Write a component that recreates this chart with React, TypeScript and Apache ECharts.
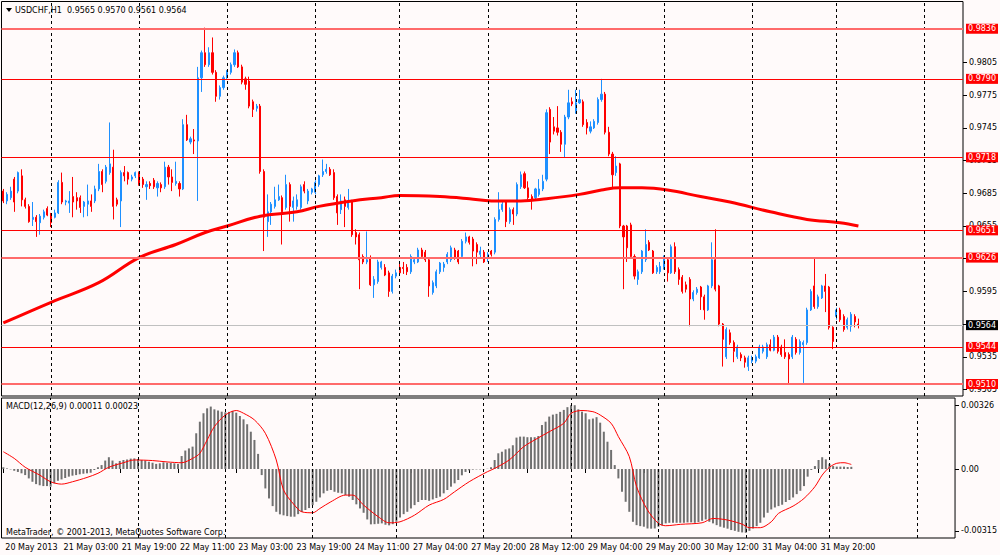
import React, { useEffect, useRef } from "react";
import * as echarts from "echarts";

const symbolName = "USDCHF,H1";
const copyright = "MetaTrader, © 2001-2013, MetaQuotes Software Corp.";

const open = [
  0.9687,0.9678,0.9681,0.9698,0.9687,0.9701,0.9679,0.9673,0.9661,0.9663,
  0.9658,0.9663,0.9671,0.9666,0.9663,0.9667,0.9695,0.9677,0.9676,0.9682,
  0.9681,0.9681,0.9673,0.9675,0.9678,0.9678,0.9689,0.9705,0.9696,0.9704,
  0.9709,0.9679,0.9678,0.9704,0.9704,0.9698,0.9701,0.9704,0.9698,0.9691,
  0.9694,0.9697,0.9690,0.9693,0.9691,0.9709,0.9700,0.9694,0.9694,0.9689,
  0.9748,0.9732,0.9734,0.9733,0.9791,0.9814,0.9803,0.9814,0.9796,0.9774,
  0.9782,0.9791,0.9796,0.9803,0.9814,0.9801,0.9790,0.9788,0.9769,0.9763,
  0.9765,0.9705,0.9659,0.9668,0.9673,0.9679,0.9681,0.9672,0.9693,0.9672,
  0.9673,0.9672,0.9693,0.9678,0.9686,0.9686,0.9693,0.9702,0.9705,0.9707,
  0.9704,0.9682,0.9670,0.9679,0.9672,0.9678,0.9649,0.9647,0.9627,0.9622,
  0.9626,0.9601,0.9604,0.9617,0.9617,0.9612,0.9595,0.9609,0.9617,0.9617,
  0.9617,0.9613,0.9622,0.9622,0.9633,0.9631,0.9624,0.9594,0.9600,0.9613,
  0.9617,0.9622,0.9624,0.9633,0.9632,0.9627,0.9641,0.9645,0.9643,0.9638,
  0.9629,0.9631,0.9626,0.9632,0.9631,0.9661,0.9670,0.9677,0.9659,0.9670,
  0.9666,0.9691,0.9703,0.9690,0.9682,0.9681,0.9684,0.9689,0.9698,0.9762,
  0.9746,0.9745,0.9741,0.9730,0.9755,0.9769,0.9760,0.9768,0.9769,0.9750,
  0.9742,0.9745,0.9750,0.9771,0.9776,0.9741,0.9721,0.9704,0.9712,0.9655,
  0.9655,0.9656,0.9627,0.9606,0.9613,0.9624,0.9640,0.9632,0.9613,0.9613,
  0.9617,0.9624,0.9612,0.9636,0.9615,0.9608,0.9601,0.9606,0.9588,0.9594,
  0.9599,0.9590,0.9578,0.9600,0.9624,0.9600,0.9565,0.9535,0.9557,0.9548,
  0.9535,0.9537,0.9534,0.9526,0.9531,0.9531,0.9534,0.9540,0.9535,0.9546,
  0.9541,0.9553,0.9544,0.9539,0.9537,0.9535,0.9551,0.9539,0.9546,0.9548,
  0.9578,0.9600,0.9581,0.9589,0.9600,0.9599,0.9562,0.9572,0.9578,0.9572,
  0.9562,0.9563,0.9572,0.9565,
];

const close = [
  0.9678,0.9684,0.9687,0.9677,0.9704,0.9679,0.9673,0.9659,0.9663,0.9659,
  0.9664,0.9668,0.9665,0.9658,0.9667,0.9695,0.9677,0.9678,0.9678,0.9677,
  0.9678,0.9672,0.9677,0.9678,0.9673,0.9689,0.9705,0.9693,0.9709,0.9712,
  0.9673,0.9675,0.9704,0.9701,0.9698,0.9700,0.9704,0.9693,0.9693,0.9693,
  0.9692,0.9691,0.9694,0.9690,0.9709,0.9700,0.9695,0.9696,0.9689,0.9748,
  0.9734,0.9735,0.9733,0.9791,0.9814,0.9803,0.9814,0.9796,0.9774,0.9782,
  0.9791,0.9796,0.9803,0.9814,0.9801,0.9787,0.9785,0.9765,0.9762,0.9765,
  0.9705,0.9663,0.9668,0.9675,0.9679,0.9682,0.9668,0.9693,0.9673,0.9678,
  0.9679,0.9691,0.9687,0.9687,0.9689,0.9695,0.9701,0.9705,0.9707,0.9702,
  0.9681,0.9667,0.9678,0.9673,0.9678,0.9647,0.9645,0.9624,0.9622,0.9624,
  0.9601,0.9606,0.9622,0.9622,0.9610,0.9595,0.9609,0.9612,0.9612,0.9616,
  0.9613,0.9627,0.9624,0.9633,0.9627,0.9624,0.9600,0.9603,0.9613,0.9621,
  0.9620,0.9629,0.9635,0.9626,0.9622,0.9641,0.9645,0.9640,0.9632,0.9631,
  0.9632,0.9622,0.9629,0.9629,0.9661,0.9670,0.9675,0.9659,0.9670,0.9666,
  0.9693,0.9702,0.9690,0.9681,0.9679,0.9689,0.9689,0.9696,0.9759,0.9732,
  0.9742,0.9741,0.9730,0.9755,0.9768,0.9767,0.9768,0.9771,0.9748,0.9745,
  0.9746,0.9751,0.9771,0.9776,0.9741,0.9721,0.9702,0.9710,0.9655,0.9645,
  0.9635,0.9627,0.9609,0.9613,0.9632,0.9638,0.9633,0.9612,0.9617,0.9618,
  0.9626,0.9612,0.9636,0.9613,0.9606,0.9595,0.9597,0.9588,0.9594,0.9597,
  0.9590,0.9578,0.9600,0.9624,0.9597,0.9565,0.9551,0.9560,0.9548,0.9540,
  0.9544,0.9534,0.9530,0.9534,0.9534,0.9535,0.9544,0.9544,0.9546,0.9541,
  0.9553,0.9540,0.9537,0.9535,0.9533,0.9553,0.9539,0.9549,0.9548,0.9578,
  0.9595,0.9581,0.9590,0.9600,0.9595,0.9562,0.9549,0.9578,0.9569,0.9560,
  0.9569,0.9574,0.9567,0.9564,
];

const high = [
  0.9689,0.9686,0.9691,0.9700,0.9705,0.9707,0.9681,0.9675,0.9677,0.9665,
  0.9666,0.9670,0.9673,0.9667,0.9670,0.9697,0.9704,0.9679,0.9687,0.9700,
  0.9686,0.9683,0.9678,0.9693,0.9684,0.9692,0.9712,0.9707,0.9711,0.9750,
  0.9725,0.9681,0.9706,0.9710,0.9705,0.9702,0.9705,0.9705,0.9700,0.9696,
  0.9696,0.9699,0.9696,0.9695,0.9714,0.9711,0.9707,0.9714,0.9696,0.9753,
  0.9757,0.9737,0.9744,0.9801,0.9816,0.9837,0.9819,0.9828,0.9798,0.9784,
  0.9793,0.9798,0.9805,0.9817,0.9816,0.9803,0.9792,0.9792,0.9771,0.9767,
  0.9767,0.9707,0.9684,0.9677,0.9691,0.9693,0.9683,0.9702,0.9695,0.9682,
  0.9684,0.9693,0.9696,0.9689,0.9690,0.9697,0.9702,0.9716,0.9712,0.9709,
  0.9707,0.9684,0.9684,0.9682,0.9689,0.9679,0.9652,0.9649,0.9629,0.9650,
  0.9628,0.9609,0.9624,0.9623,0.9620,0.9614,0.9611,0.9615,0.9622,0.9622,
  0.9620,0.9629,0.9626,0.9635,0.9635,0.9633,0.9626,0.9605,0.9615,0.9622,
  0.9622,0.9631,0.9637,0.9635,0.9633,0.9643,0.9649,0.9646,0.9645,0.9640,
  0.9636,0.9633,0.9631,0.9633,0.9663,0.9686,0.9677,0.9678,0.9672,0.9672,
  0.9695,0.9705,0.9705,0.9696,0.9684,0.9690,0.9698,0.9702,0.9762,0.9764,
  0.9755,0.9765,0.9743,0.9757,0.9780,0.9773,0.9780,0.9780,0.9771,0.9753,
  0.9751,0.9753,0.9773,0.9790,0.9778,0.9746,0.9723,0.9719,0.9713,0.9656,
  0.9656,0.9658,0.9629,0.9615,0.9633,0.9652,0.9642,0.9633,0.9619,0.9622,
  0.9628,0.9626,0.9638,0.9640,0.9617,0.9610,0.9604,0.9608,0.9596,0.9599,
  0.9600,0.9592,0.9601,0.9640,0.9652,0.9601,0.9566,0.9562,0.9560,0.9550,
  0.9546,0.9539,0.9536,0.9536,0.9536,0.9537,0.9546,0.9546,0.9548,0.9551,
  0.9555,0.9555,0.9546,0.9551,0.9539,0.9555,0.9553,0.9551,0.9550,0.9580,
  0.9597,0.9626,0.9592,0.9601,0.9611,0.9600,0.9563,0.9580,0.9580,0.9574,
  0.9571,0.9576,0.9574,0.9570,
];

const low = [
  0.9676,0.9675,0.9679,0.9668,0.9685,0.9673,0.9671,0.9658,0.9655,0.9645,
  0.9647,0.9661,0.9664,0.9654,0.9662,0.9666,0.9675,0.9674,0.9667,0.9663,
  0.9670,0.9667,0.9663,0.9664,0.9668,0.9676,0.9687,0.9686,0.9694,0.9702,
  0.9661,0.9673,0.9654,0.9696,0.9693,0.9696,0.9699,0.9692,0.9690,0.9679,
  0.9689,0.9689,0.9682,0.9686,0.9689,0.9693,0.9687,0.9692,0.9682,0.9688,
  0.9733,0.9730,0.9721,0.9678,0.9778,0.9801,0.9801,0.9794,0.9769,0.9771,
  0.9780,0.9790,0.9794,0.9801,0.9800,0.9785,0.9780,0.9763,0.9755,0.9760,
  0.9703,0.9632,0.9645,0.9656,0.9671,0.9678,0.9638,0.9670,0.9659,0.9659,
  0.9670,0.9670,0.9685,0.9675,0.9684,0.9684,0.9691,0.9700,0.9703,0.9701,
  0.9679,0.9656,0.9666,0.9654,0.9670,0.9645,0.9638,0.9597,0.9620,0.9620,
  0.9600,0.9589,0.9602,0.9615,0.9609,0.9590,0.9593,0.9607,0.9610,0.9611,
  0.9610,0.9611,0.9620,0.9621,0.9625,0.9622,0.9590,0.9592,0.9598,0.9611,
  0.9613,0.9620,0.9622,0.9624,0.9620,0.9625,0.9639,0.9638,0.9618,0.9620,
  0.9626,0.9621,0.9622,0.9627,0.9629,0.9659,0.9668,0.9654,0.9657,0.9656,
  0.9664,0.9689,0.9689,0.9679,0.9670,0.9679,0.9682,0.9687,0.9696,0.9721,
  0.9739,0.9738,0.9723,0.9718,0.9753,0.9765,0.9758,0.9767,0.9746,0.9739,
  0.9740,0.9744,0.9748,0.9769,0.9739,0.9719,0.9690,0.9701,0.9653,0.9597,
  0.9622,0.9625,0.9606,0.9601,0.9611,0.9622,0.9632,0.9611,0.9611,0.9611,
  0.9615,0.9604,0.9611,0.9611,0.9601,0.9593,0.9594,0.9563,0.9586,0.9592,
  0.9578,0.9569,0.9577,0.9598,0.9595,0.9563,0.9526,0.9533,0.9546,0.9530,
  0.9533,0.9531,0.9525,0.9522,0.9529,0.9529,0.9533,0.9538,0.9533,0.9540,
  0.9540,0.9538,0.9535,0.9533,0.9510,0.9533,0.9537,0.9537,0.9511,0.9546,
  0.9577,0.9579,0.9579,0.9588,0.9576,0.9560,0.9542,0.9569,0.9567,0.9558,
  0.9560,0.9558,0.9562,0.9561,
];

// moving average (bar index, value)
const maPoints = [
  [0,0.9566],[13,0.9585],[26,0.9603],[37,0.9626],[47,0.9638],[55,0.9649],
  [61,0.9655],[70,0.9664],[80,0.9668],[86,0.9673],[95,0.9678],[103,0.9681],
  [108,0.9683],[119,0.9682],[127,0.9680],[133,0.9678],[141,0.9678],[148,0.9680],
  [157,0.9684],[163,0.9688],[168,0.9690],[174,0.9690],[181,0.9688],[190,0.9682],
  [198,0.9677],[209,0.9668],[219,0.9661],[228,0.9658],[233,0.9655],
];

const macdHist = [
  0.00009,0.00003,-0.00002,-0.00009,-0.00015,-0.00022,-0.00031,-0.00048,-0.00065,-0.00077,
  -0.00083,-0.00087,-0.00087,-0.00090,-0.00073,-0.00060,-0.00053,-0.00046,-0.00039,-0.00034,
  -0.00031,-0.00027,-0.00024,-0.00022,-0.00019,-0.00005,0.00009,0.00020,0.00043,0.00060,
  0.00043,0.00029,0.00041,0.00046,0.00049,0.00053,0.00054,0.00051,0.00046,0.00043,
  0.00037,0.00032,0.00026,0.00029,0.00034,0.00032,0.00031,0.00029,0.00026,0.00066,
  0.00094,0.00105,0.00114,0.00182,0.00241,0.00284,0.00309,0.00318,0.00304,0.00298,
  0.00292,0.00289,0.00291,0.00296,0.00287,0.00270,0.00253,0.00228,0.00190,0.00148,
  0.00077,-0.00031,-0.00099,-0.00150,-0.00189,-0.00218,-0.00231,-0.00236,-0.00240,-0.00243,
  -0.00243,-0.00230,-0.00219,-0.00209,-0.00199,-0.00184,-0.00167,-0.00145,-0.00124,-0.00111,
  -0.00107,-0.00116,-0.00121,-0.00124,-0.00133,-0.00141,-0.00158,-0.00180,-0.00201,-0.00223,
  -0.00257,-0.00282,-0.00281,-0.00279,-0.00277,-0.00284,-0.00287,-0.00281,-0.00269,-0.00247,
  -0.00230,-0.00218,-0.00201,-0.00184,-0.00168,-0.00158,-0.00158,-0.00162,-0.00155,-0.00148,
  -0.00141,-0.00124,-0.00107,-0.00090,-0.00073,-0.00056,-0.00032,-0.00015,-0.00007,-0.00003,
  -0.00002,-0.00002,-0.00002,0.00001,0.00009,0.00046,0.00080,0.00088,0.00100,0.00105,
  0.00121,0.00160,0.00165,0.00165,0.00162,0.00162,0.00162,0.00168,0.00224,0.00241,
  0.00267,0.00277,0.00281,0.00291,0.00301,0.00315,0.00325,0.00325,0.00304,0.00292,
  0.00284,0.00253,0.00257,0.00264,0.00236,0.00190,0.00139,0.00097,0.00020,-0.00048,
  -0.00116,-0.00167,-0.00218,-0.00269,-0.00286,-0.00291,-0.00294,-0.00303,-0.00304,-0.00303,
  -0.00294,-0.00287,-0.00277,-0.00274,-0.00274,-0.00274,-0.00274,-0.00274,-0.00272,-0.00272,
  -0.00274,-0.00270,-0.00264,-0.00257,-0.00269,-0.00277,-0.00286,-0.00294,-0.00299,-0.00304,
  -0.00311,-0.00315,-0.00320,-0.00323,-0.00325,-0.00315,-0.00303,-0.00291,-0.00274,-0.00247,
  -0.00223,-0.00206,-0.00196,-0.00189,-0.00182,-0.00168,-0.00158,-0.00145,-0.00128,-0.00111,
  -0.00087,-0.00039,-0.00005,0.00015,0.00046,0.00060,0.00049,0.00026,0.00015,0.00012,
  0.00012,0.00012,0.00010,0.00011,
];

const macdSignal = [
  [0,0.00088],[3,0.00054],[6,0.00009],[10,-0.00031],[13,-0.00065],[16,-0.00077],
  [19,-0.00065],[23,-0.00043],[26,-0.00022],[29,0.00009],[33,0.00032],[36,0.00046],
  [41,0.00043],[45,0.00036],[49,0.00032],[52,0.00054],[54,0.00080],[56,0.00148],
  [58,0.00216],[61,0.00275],[64,0.00298],[66,0.00284],[69,0.00250],[72,0.00182],
  [75,0.00046],[77,-0.00107],[80,-0.00184],[82,-0.00218],[85,-0.00223],[87,-0.00201],
  [90,-0.00167],[94,-0.00133],[96,-0.00133],[99,-0.00184],[103,-0.00243],[106,-0.00274],
  [109,-0.00269],[113,-0.00235],[117,-0.00184],[121,-0.00155],[124,-0.00116],[128,-0.00065],
  [133,-0.00014],[135,0.00003],[139,0.00046],[143,0.00114],[146,0.00148],[150,0.00190],
  [154,0.00233],[156,0.00284],[159,0.00298],[162,0.00292],[164,0.00275],[167,0.00233],
  [169,0.00165],[172,0.00063],[174,-0.00090],[177,-0.00209],[180,-0.00277],[182,-0.00289],
  [186,-0.00282],[192,-0.00274],[195,-0.00252],[199,-0.00260],[203,-0.00281],[205,-0.00299],
  [208,-0.00299],[211,-0.00269],[213,-0.00226],[217,-0.00189],[220,-0.00150],[223,-0.00090],
  [225,-0.00031],[227,0.00009],[229,0.00029],[231,0.00032],[233,0.00023],
];

const timeLabels: [number, string][] = [
  [0, "20 May 2013"], [16, "21 May 03:00"], [32, "21 May 19:00"], [48, "22 May 11:00"],
  [64, "23 May 03:00"], [80, "23 May 19:00"], [96, "24 May 11:00"], [112, "27 May 04:00"],
  [128, "27 May 20:00"], [144, "28 May 12:00"], [160, "29 May 04:00"], [176, "29 May 20:00"],
  [192, "30 May 12:00"], [208, "31 May 04:00"], [224, "31 May 20:00"],
];

const dayStarts = [13, 37, 61, 85, 108, 132, 156, 180, 204, 227, 251];
const levels = [0.9836, 0.9790, 0.9718, 0.9651, 0.9626, 0.9544, 0.9510];
const levelFaint = [true, false, false, false, true, false, true];
const priceTicks = [0.9505, 0.9535, 0.9565, 0.9595, 0.9625, 0.9655, 0.9685, 0.9715, 0.9745, 0.9775, 0.9805];
const macdTicks = [0.00326, 0, -0.00315];
const priceMin = 0.9499;
const priceMax = 0.9861;
const macdMin = -0.003515;
const macdMax = 0.003617;
const slotCount = 262;

const FONT = "DejaVu Sans";

export default function App() {
  const ref = useRef<HTMLDivElement>(null);
  useEffect(() => {
    if (!ref.current) return;
    const chart = echarts.init(ref.current, undefined, { renderer: "svg" });
    const last = close.length - 1;
    const categories = Array.from({ length: slotCount }, (_, i) => String(i));
    const labelMap = new Map<number, string>(timeLabels);
    const candles = open.map((o, i) => [o, close[i], low[i], high[i]]);
    const dayLine = (d: number) => ({
      xAxis: d,
      lineStyle: { color: "#000", type: [3, 3], width: 1 },
      label: { show: false },
    });
    const boxLabel = (text: string, bg: string) => ({
      show: true,
      position: "end",
      formatter: text,
      backgroundColor: bg,
      color: "#ffffff",
      fontSize: 8,
      fontFamily: FONT,
      lineHeight: 9,
      padding: [1, 2, 0, 2],
      distance: 3,
    });
    const levelLines = levels.map((v, k) => ({
      yAxis: v,
      lineStyle: {
        color: levelFaint[k] ? "#ff6a6a" : "#ff0000",
        width: levelFaint[k] ? 2 : 1,
        type: "solid",
      },
      label: boxLabel(v.toFixed(4), "#ff0000"),
    }));
    const bidLine = {
      yAxis: close[last],
      lineStyle: { color: "#c0c0c0", width: 1, type: "solid" },
      label: boxLabel(close[last].toFixed(4), "#000000"),
    };
    const axisText = { fontSize: 8, color: "#000", fontFamily: FONT };

    const option: any = {
      animation: false,
      backgroundColor: "#fffafa",
      textStyle: { fontFamily: FONT },
      grid: [
        { left: 1.5, right: 37, top: 1.5, height: 394.5, show: true, borderColor: "#000", borderWidth: 1 },
        { left: 1.5, right: 37, top: 398, height: 140, show: true, borderColor: "#000", borderWidth: 1 },
      ],
      xAxis: [
        {
          type: "category", gridIndex: 0, data: categories,
          axisLine: { show: false }, axisTick: { show: false }, axisLabel: { show: false },
          splitLine: { show: false },
        },
        {
          type: "category", gridIndex: 1, data: categories,
          axisLine: { show: false },
          axisTick: {
            show: true, alignWithLabel: true, length: 4,
            interval: (i: number) => labelMap.has(i),
            lineStyle: { color: "#000" },
          },
          axisLabel: {
            ...axisText,
            interval: (i: number) => labelMap.has(i),
            formatter: (_v: string, i: number) => labelMap.get(i) ?? "",
            align: "left",
            margin: 5,
            padding: [0, 0, 0, 2],
          },
          splitLine: { show: false },
        },
      ],
      yAxis: [
        {
          type: "value", gridIndex: 0, position: "right", min: priceMin, max: priceMax,
          splitLine: { show: false }, axisLine: { show: false },
          axisTick: { show: true, customValues: priceTicks, length: 4, lineStyle: { color: "#000" } },
          axisLabel: { ...axisText, customValues: priceTicks, formatter: (v: number) => v.toFixed(4), margin: 6 },
        },
        {
          type: "value", gridIndex: 1, position: "right", min: macdMin, max: macdMax,
          splitLine: { show: false }, axisLine: { show: false },
          axisTick: { show: true, customValues: macdTicks, length: 4, lineStyle: { color: "#000" } },
          axisLabel: {
            ...axisText, customValues: macdTicks, margin: 6,
            formatter: (v: number) => (Math.abs(v) < 1e-9 ? "0.00" : v.toFixed(5)),
          },
        },
      ],
      series: [
        {
          type: "line", xAxisIndex: 0, yAxisIndex: 0, data: [], z: 1, silent: true,
          markLine: { silent: true, symbol: ["none", "none"], animation: false, data: dayStarts.map(dayLine) },
        },
        {
          type: "line", xAxisIndex: 1, yAxisIndex: 1, data: [], z: 1, silent: true,
          markLine: { silent: true, symbol: ["none", "none"], animation: false, data: dayStarts.map(dayLine) },
        },
        {
          type: "candlestick", xAxisIndex: 0, yAxisIndex: 0, data: candles, barWidth: 1.6, z: 3,
          itemStyle: {
            color: "#1e90ff", color0: "#ff0000",
            borderColor: "#1e90ff", borderColor0: "#ff0000", borderWidth: 1,
          },
          markLine: {
            silent: true, symbol: ["none", "none"], animation: false, precision: 6,
            data: [...levelLines, bidLine],
          },
        },
        {
          type: "line", xAxisIndex: 0, yAxisIndex: 0, data: maPoints, smooth: 0.4,
          showSymbol: false, z: 4, lineStyle: { color: "#ff0000", width: 3 },
        },
        {
          type: "bar", xAxisIndex: 1, yAxisIndex: 1, data: macdHist, barWidth: 2, z: 3,
          itemStyle: { color: "#707070" },
        },
        {
          type: "line", xAxisIndex: 1, yAxisIndex: 1, data: macdSignal, smooth: 0.3,
          showSymbol: false, z: 4, lineStyle: { color: "#ff0000", width: 1 },
        },
      ],
      graphic: [
        { type: "polygon", shape: { points: [[6, 8], [12, 8], [9, 12]] }, style: { fill: "#000" }, z: 10 },
        {
          type: "text", x: 15, y: 10, z: 10,
          style: {
            text: `${symbolName}  ${open[last].toFixed(4)} ${high[last].toFixed(4)} ${low[last].toFixed(4)} ${close[last].toFixed(4)}`,
            font: `8px '${FONT}'`, fill: "#000", verticalAlign: "middle",
          },
        },
        {
          type: "text", x: 6, y: 406, z: 10,
          style: {
            text: `MACD(12,26,9) ${macdHist[last].toFixed(5)} ${macdSignal[macdSignal.length - 1][1].toFixed(5)}`,
            font: `8px '${FONT}'`, fill: "#000", verticalAlign: "middle",
          },
        },
        {
          type: "text", x: 6, y: 532, z: 10,
          style: { text: copyright, font: `8px '${FONT}'`, fill: "#000", verticalAlign: "middle" },
        },
      ],
    };
    chart.setOption(option);
    return () => chart.dispose();
  }, []);
  return (
    <div
      ref={ref}
      style={{ position: "fixed", left: 0, top: 0, width: 1000, height: 555 }}
    />
  );
}
